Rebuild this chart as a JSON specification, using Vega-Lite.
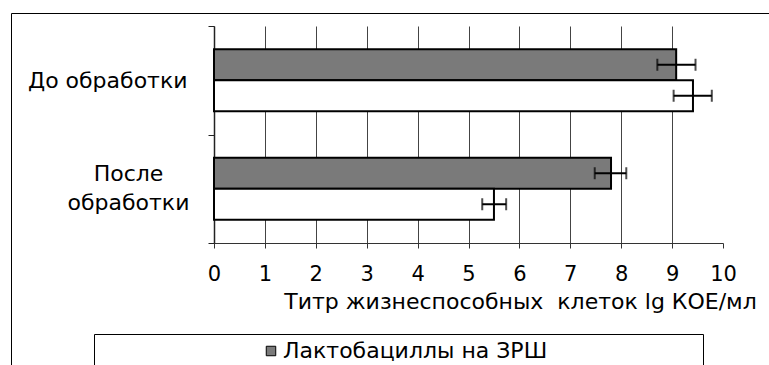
{
  "$schema": "https://vega.github.io/schema/vega-lite/v6.json",
  "autosize": "none",
  "width": 509,
  "height": 217,
  "padding": {"left": 214, "top": 26, "right": 46, "bottom": 122},
  "background": "white",
  "config": {
    "view": {"stroke": null},
    "font": "DejaVu Sans",
    "axis": {"labelFont": "DejaVu Sans", "titleFont": "DejaVu Sans", "labelColor": "black", "titleColor": "black", "titleFontWeight": "normal"}
  },
  "data": {
    "values": [
      {"category": "До обработки", "series": "Лактобациллы на ЗРШ", "value": 9.08, "lo": 8.71, "hi": 9.46},
      {"category": "До обработки", "series": "Лактобациллы на МРС", "value": 9.41, "lo": 9.03, "hi": 9.78},
      {"category": "После обработки", "series": "Лактобациллы на ЗРШ", "value": 7.80, "lo": 7.48, "hi": 8.10},
      {"category": "После обработки", "series": "Лактобациллы на МРС", "value": 5.50, "lo": 5.27, "hi": 5.74}
    ]
  },
  "encoding": {
    "y": {
      "field": "category", "type": "nominal",
      "sort": ["До обработки", "После обработки"],
      "scale": {"paddingInner": 0, "paddingOuter": 0},
      "axis": {
        "title": null,
        "tickBand": "extent",
        "tickSize": 6,
        "tickColor": "#222",
        "domainColor": "#222",
        "domainWidth": 1.5,
        "labelFontSize": 22,
        "labelLineHeight": 29,
        "labelExpr": "datum.label == 'После обработки' ? ['После', 'обработки'] : datum.label",
        "labelAlign": {"condition": {"test": "datum.value == 'После обработки'", "value": "center"}, "value": "right"},
        "labelPadding": {"condition": {"test": "datum.value == 'После обработки'", "value": 80}, "value": 21},
        "labelOffset": {"condition": {"test": "datum.value == 'После обработки'", "value": -15}, "value": 0}
      }
    },
    "yOffset": {
      "field": "series", "type": "nominal",
      "sort": ["Лактобациллы на ЗРШ", "Лактобациллы на МРС"],
      "scale": {"paddingInner": 0, "paddingOuter": 0.75}
    }
  },
  "layer": [
    {
      "mark": {"type": "bar", "stroke": "black", "strokeWidth": 2},
      "encoding": {
        "x": {
          "field": "value", "type": "quantitative",
          "scale": {"domain": [0, 10], "nice": false},
          "axis": {
            "values": [0, 1, 2, 3, 4, 5, 6, 7, 8, 9, 10],
            "format": "d",
            "title": "Титр жизнеспособных\u00a0 клеток lg КОЕ/мл",
            "titleFontSize": 22,
            "titleX": 306,
            "titleY": 65,
            "titleAlign": "center",
            "titleBaseline": "alphabetic",
            "labelFontSize": 21,
            "labelPadding": 15,
            "labelFlush": false,
            "tickSize": 5,
            "tickColor": "#333",
            "domainColor": "#333",
            "grid": true,
            "gridColor": "#444",
            "gridWidth": 1,
            "gridOpacity": {"condition": {"test": "datum.value == 10", "value": 0}, "value": 1}
          }
        },
        "fill": {
          "field": "series", "type": "nominal",
          "scale": {"domain": ["Лактобациллы на ЗРШ", "Лактобациллы на МРС"], "range": ["#7a7a7a", "white"]},
          "legend": {
            "orient": "none",
            "legendX": -120,
            "legendY": 308,
            "title": null,
            "values": ["Лактобациллы на ЗРШ"],
            "strokeColor": "black",
            "padding": 6,
            "symbolType": "square",
            "symbolSize": 90,
            "symbolStrokeColor": "black",
            "symbolStrokeWidth": 1,
            "symbolOffset": 160,
            "labelFontSize": 22,
            "labelFont": "DejaVu Sans",
            "labelColor": "black",
            "labelLimit": 1000,
            "labelOffset": 1,
            "labelExpr": "datum.label + '\u00a0\u00a0\u00a0\u00a0\u00a0\u00a0\u00a0\u00a0\u00a0\u00a0\u00a0\u00a0\u00a0\u00a0\u00a0\u00a0\u00a0\u00a0\u00a0\u2800'"
          }
        }
      }
    },
    {
      "mark": {"type": "rule", "color": "black", "strokeWidth": 2},
      "encoding": {
        "x": {"field": "lo", "type": "quantitative"},
        "x2": {"field": "hi"},
        "opacity": {
          "field": "category", "type": "nominal",
          "scale": {"range": [1, 1]},
          "legend": {
            "orient": "none",
            "legendX": -203,
            "legendY": -13,
            "title": null,
            "strokeColor": "black",
            "padding": 420,
            "symbolOpacity": 0,
            "labelOpacity": 0,
            "labelExpr": "''"
          }
        }
      }
    },
    {
      "mark": {"type": "tick", "orient": "vertical", "size": 12, "thickness": 2, "color": "black"},
      "encoding": {"x": {"field": "lo", "type": "quantitative"}}
    },
    {
      "mark": {"type": "tick", "orient": "vertical", "size": 12, "thickness": 2, "color": "black"},
      "encoding": {"x": {"field": "hi", "type": "quantitative"}}
    }
  ]
}
